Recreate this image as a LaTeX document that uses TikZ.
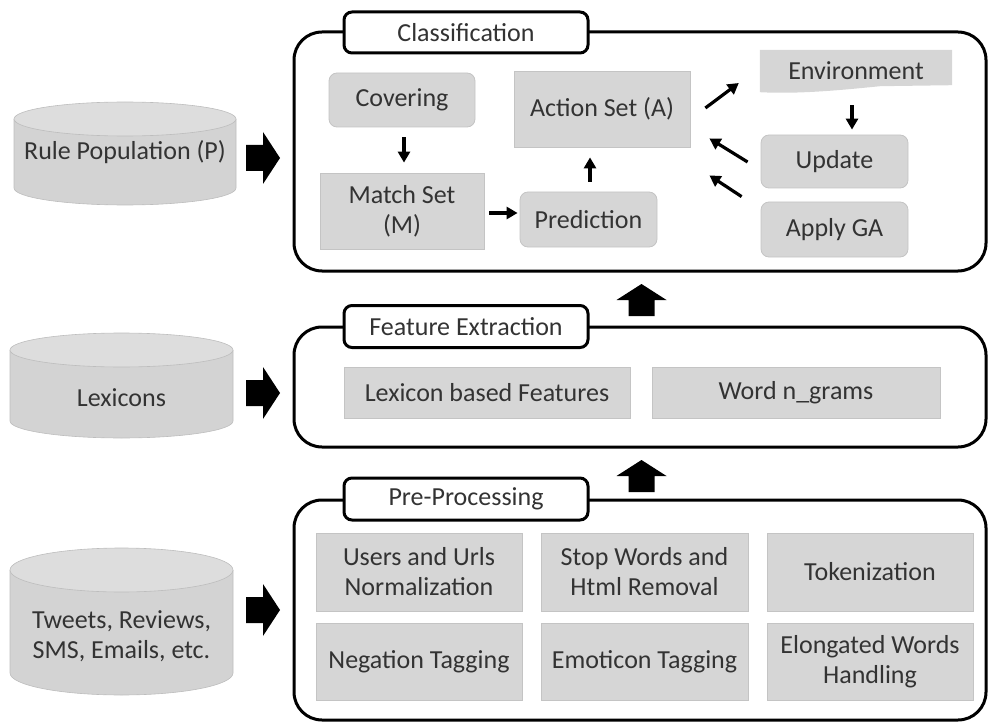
\documentclass[tikz,border=0pt]{standalone}
\usepackage{fontspec}
\setmainfont{Carlito}
\usetikzlibrary{arrows.meta,calc,backgrounds}
\definecolor{boxfill}{HTML}{D6D6D6}
\definecolor{boxline}{HTML}{C4C4C4}
\definecolor{cylbody}{HTML}{D3D3D3}
\definecolor{cyltop}{HTML}{DDDDDD}
\definecolor{cylline}{HTML}{BDBDBD}
\definecolor{txt}{HTML}{333333}
\tikzset{
  rblock/.pic={\fill[black] (0,-13) -- (17,-13) -- (17,-26) -- (34,0) -- (17,26) -- (17,13) -- (0,13) -- cycle;},
  ublock/.pic={\fill[black] (-13,0) -- (-13,-16) -- (-25,-16) -- (0,-32) -- (25,-16) -- (13,-16) -- (13,0) -- cycle;}
}
\begin{document}
\begin{tikzpicture}[x=1pt,y=-1pt,
  every node/.style={font=\fontsize{26}{30}\selectfont, text=txt, inner sep=0pt, align=center},
  stage/.style={draw=black, line width=3pt, rounded corners=28pt},
  tab/.style={draw=black, fill=white, line width=3pt, rounded corners=8pt},
  sqbox/.style={fill=boxfill, draw=boxline, line width=0.8pt},
  rbox/.style={sqbox, rounded corners=8pt},
  flow/.style={line width=3.2pt, -{Triangle[length=11pt,width=12pt]}}
]
\useasboundingbox (0,0) rectangle (990,722);

% ---------- data stores (cylinders) ----------
% Rule Population
\fill[cylbody] (14,119) -- (14,188) arc[start angle=180,end angle=0,x radius=111,y radius=17] -- (236,119) -- cycle;
\draw[cylline,line width=0.6pt] (14,119) -- (14,188) arc[start angle=180,end angle=0,x radius=111,y radius=17] -- (236,119);
\filldraw[fill=cyltop,draw=cylline,line width=0.6pt] (125,119) ellipse[x radius=111,y radius=17];
\node (rulepop) at (125,152) {Rule Population (P)};
% Lexicons
\fill[cylbody] (10,350) -- (10,421) arc[start angle=180,end angle=0,x radius=111.5,y radius=17] -- (233,350) -- cycle;
\draw[cylline,line width=0.6pt] (10,350) -- (10,421) arc[start angle=180,end angle=0,x radius=111.5,y radius=17] -- (233,350);
\filldraw[fill=cyltop,draw=cylline,line width=0.6pt] (121.5,350) ellipse[x radius=111.5,y radius=17];
\node (lexicons) at (121.5,398) {Lexicons};
% Tweets etc.
\fill[cylbody] (10,570) -- (10,673) arc[start angle=180,end angle=0,x radius=111.5,y radius=22] -- (233,570) -- cycle;
\draw[cylline,line width=0.6pt] (10,570) -- (10,673) arc[start angle=180,end angle=0,x radius=111.5,y radius=22] -- (233,570);
\filldraw[fill=cyltop,draw=cylline,line width=0.6pt] (121.5,570) ellipse[x radius=111.5,y radius=22];
\node (tweets) at (121.5,636) {Tweets, Reviews,\\SMS, Emails, etc.};

% ---------- stage frames ----------
\node[stage, minimum width=692pt, minimum height=239pt] (clsframe) at (640,151.5) {};
\node[stage, minimum width=692pt, minimum height=120pt] (featframe) at (640,387) {};
\node[stage, minimum width=692pt, minimum height=220pt] (preframe) at (640,610) {};
\node[tab, minimum width=244pt, minimum height=41pt] (clstab) at (466,32.5) {Classification};
\node[tab, minimum width=244pt, minimum height=42pt] (feattab) at (466,326.5) {Feature Extraction};
\node[tab, minimum width=244pt, minimum height=42pt] (pretab) at (466,499) {Pre-Processing};

% ---------- block arrows ----------
\coordinate (in1) at (246,158);
\coordinate (in2) at (246,393);
\coordinate (in3) at (246,610);
\coordinate (up1) at (641.5,316);
\coordinate (up2) at (641.5,492);
\pic at (in1) {rblock};
\pic at (in2) {rblock};
\pic at (in3) {rblock};
\pic at (up1) {ublock};
\pic at (up2) {ublock};

% ---------- classification ----------
\node[rbox, minimum width=146pt, minimum height=54pt] (cov) at (402,100) {Covering};
\node[sqbox, minimum width=164pt, minimum height=76pt] (match) at (402,211) {Match Set\\(M)};
\node[sqbox, minimum width=176pt, minimum height=76pt] (action) at (602,109) {Action Set (A)};
\node[rbox, minimum width=137pt, minimum height=55pt] (pred) at (588.5,219.5) {Prediction};
\node[minimum width=192pt, minimum height=42pt] (env) at (856,71) {Environment};
\begin{scope}[on background layer]
\fill[boxfill] (env.north west) -- (env.north east) -- ($(env.south east)+(0,-7)$)
  -- ($(env.south east)+(-72,-6)$) .. controls ($(env.south west)+(80,-2)$) and ($(env.south west)+(40,2)$) .. (env.south west) -- cycle;
\end{scope}
\node[rbox, minimum width=147pt, minimum height=53pt] (update) at (834.5,161.5) {Update};
\node[rbox, minimum width=147pt, minimum height=55pt] (apply) at (834.5,229.5) {Apply GA};

\draw[flow] ($(cov.south)+(2,10)$) -- ($(match.north)+(2,-10)$);
\draw[flow] ($(match.east)+(5,2)$) -- ($(pred.west)+(-2,-6.5)$);
\draw[flow] ($(pred.north)+(1.5,-10)$) -- ($(action.south)+(-12,10)$);
\draw[flow] ($(action.east)+(15,-1)$) -- ($(env.west)+(-21,12)$);
\draw[flow] ($(env.south)+(-4,13)$) -- ($(update.north)+(17.5,-5)$);
\draw[flow] ($(update.west)+(-13,0.5)$) -- ($(action.south east)+(19,-9)$);
\draw[flow] ($(apply.north west)+(-19,-5)$) -- ($(action.south east)+(19,28)$);

% ---------- feature extraction ----------
\node[sqbox, minimum width=286pt, minimum height=51pt] (lexfeat) at (487,392.5) {Lexicon based Features};
\node[sqbox, minimum width=288pt, minimum height=51pt] (ngrams) at (796,392.5) {Word n\_grams};

% ---------- pre-processing ----------
\node[sqbox, minimum width=206pt, minimum height=78pt] (users) at (419,572) {Users and Urls\\Normalization};
\node[sqbox, minimum width=207pt, minimum height=78pt] (stopw) at (644.5,572) {Stop Words and\\Html Removal};
\node[sqbox, minimum width=206pt, minimum height=78pt] (token) at (870,572) {Tokenization};
\node[sqbox, minimum width=206pt, minimum height=77pt] (negation) at (419,661.5) {Negation Tagging};
\node[sqbox, minimum width=207pt, minimum height=77pt] (emoticon) at (644.5,661.5) {Emoticon Tagging};
\node[sqbox, minimum width=206pt, minimum height=77pt] (elong) at (870,661.5) {Elongated Words\\Handling};
\end{tikzpicture}
\end{document}
